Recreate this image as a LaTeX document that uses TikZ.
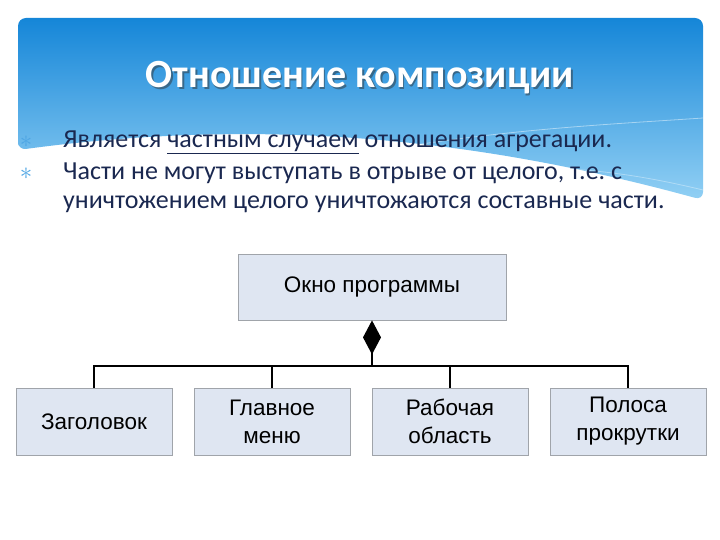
\documentclass[tikz,border=0pt]{standalone}
\usepackage{fontspec}
\setmainfont{Carlito}
\newfontfamily\boxfont{Liberation Sans}
\usetikzlibrary{arrows.meta,positioning,shapes.geometric}
\definecolor{skytop}{HTML}{1586D8}
\definecolor{skybot}{HTML}{92D0F4}
\definecolor{inktext}{HTML}{1A2850}
\definecolor{boxfill}{HTML}{DFE6F2}
\definecolor{boxline}{HTML}{A0A4AA}
\definecolor{starblue}{HTML}{4FA6E4}

\tikzset{
  part/.style={draw=boxline, fill=boxfill, line width=0.8pt,
    minimum width=156pt, minimum height=67pt, inner sep=0pt,
    align=center, font=\boxfont\fontsize{22.5}{28}\selectfont},
  link/.style={line width=2pt, black},
  itemtext/.style={anchor=base west, inner sep=0pt, text=inktext,
    font=\fontsize{26}{30}\selectfont},
  itemstar/.style={text=starblue, inner sep=0pt,
    font=\fontsize{34}{34}\selectfont},
}

\begin{document}
\begin{tikzpicture}[x=1pt, y=-1pt]
  \useasboundingbox (0,0) rectangle (720,540);

  %% header band
  \shade[top color=skytop, bottom color=skybot, rounded corners=8pt]
    (18,150) -- (18,18) -- (703,18) -- (703,200)
    .. controls (520,150) and (300,112) .. (18,150) -- cycle;
  \draw[white, opacity=0.45, line width=0.8pt]
    (330,160) .. controls (480,130) and (600,125) .. (703,118);
  \draw[white, opacity=0.35, line width=0.8pt]
    (420,175) .. controls (540,160) and (620,170) .. (703,190);

  %% title
  \node[text=black!80, opacity=0.5,
        font=\bfseries\fontsize{40}{40}\selectfont] (titleshade)
    at (361.5,79.5) {Отношение композиции};
  \node[text=white, font=\bfseries\fontsize{40}{40}\selectfont] (title)
    at (360,78) {Отношение композиции};

  %% bullets
  \node[itemstar] (star1) at (26,142) {$\ast$};
  \node[itemstar] (star2) at (26,174) {$\ast$};
  \node[itemtext] (item1) at (63,148)
    {Является \underline{частным случаем} отношения агрегации.};
  \node[itemtext] (item2) at (63,180)
    {Части не могут выступать в отрыве от целого, т.е.\ с};
  \node[itemtext] (item2b) at (63,209)
    {уничтожением целого уничтожаются составные части.};

  %% whole
  \node[part, minimum width=268pt, minimum height=66pt] (win)
    at (372,287) {Окно программы};

  %% parts
  \node[part] (head)   at (94,421.5)  {Заголовок};
  \node[part] (menu)   at (272,421.5) {Главное\\меню};
  \node[part] (work)   at (450,421.5) {Рабочая\\область};
  \node[part] (scroll) at (628,421.5) {Полоса\\прокрутки};

  %% composition links
  \coordinate (hub) at (372,366);
  \draw[link, {Diamond[width=18pt, length=34pt]}-] (win.south) -- (hub);
  \foreach \pp in {head,menu,work,scroll}
    \draw[link] (\pp.north) |- (hub);

\end{tikzpicture}
\end{document}
